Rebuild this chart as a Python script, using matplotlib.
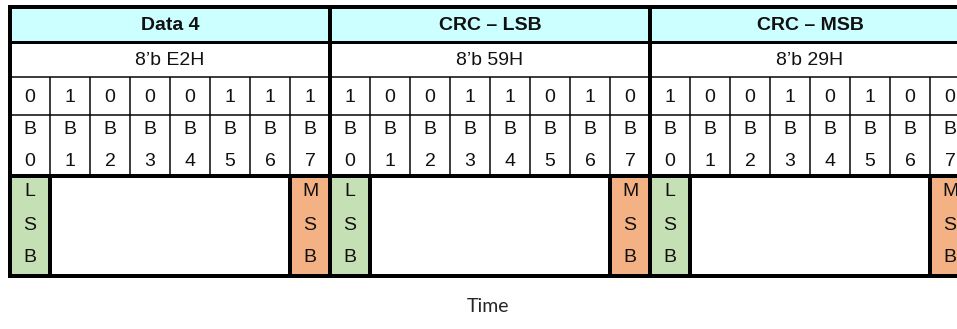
import matplotlib.pyplot as plt
from matplotlib.patches import Rectangle

# data
groups = ["Data 4", "CRC \u2013 LSB", "CRC \u2013 MSB"]
hex_labels = ["8\u2019b E2H", "8\u2019b 59H", "8\u2019b 29H"]
bits = [
    [0, 1, 0, 0, 0, 1, 1, 1],
    [1, 0, 0, 1, 1, 0, 1, 0],
    [1, 0, 0, 1, 0, 1, 0, 0],
]
bit_names = ["B0", "B1", "B2", "B3", "B4", "B5", "B6", "B7"]
axis_label = "Time"

# layout in pixels
W, H = 957, 329
x0 = 10
cw = 40          # one bit column
gw = cw * 8      # one byte group
rows = [7, 42, 77, 115, 176, 276]

cyan = "#CCFFFF"
green = "#C5E0B4"
orange = "#F4B183"
font = "Liberation Sans"
fs = 14
px = 0.72  # pixels -> points at dpi 100

fig = plt.figure(figsize=(W / 100, H / 100), dpi=100)
ax = fig.add_axes([0, 0, 1, 1])
ax.set_xlim(0, W)
ax.set_ylim(H, 0)
ax.axis("off")

def hline(y, xa, xb, w):
    ax.plot([xa, xb], [y, y], color="black", lw=w * px, solid_capstyle="butt", zorder=3)

def vline(x, ya, yb, w):
    ax.plot([x, x], [ya, yb], color="black", lw=w * px, solid_capstyle="butt", zorder=3)

def label(x, y, s, **kw):
    ax.text(x, y, s, ha="center", va="center", fontsize=fs, family=font, color="#111111", **kw)

for g, name in enumerate(groups):
    gx = x0 + g * gw
    # header
    ax.add_patch(Rectangle((gx, rows[0]), gw, rows[1] - rows[0], color=cyan, zorder=1))
    label(gx + gw / 2, (rows[0] + rows[1]) / 2 + 1, name, fontweight="bold")
    label(gx + gw / 2, (rows[1] + rows[2]) / 2 + 1, hex_labels[g])
    for i in range(8):
        cx = gx + i * cw
        label(cx + cw / 2, (rows[2] + rows[3]) / 2 + 1, str(bits[g][i]))
        label(cx + cw / 2, 130, bit_names[i][0])
        label(cx + cw / 2, 161, bit_names[i][1])
        if i > 0:
            vline(cx, rows[2], rows[4], 1.5)
    # LSB / MSB cells
    ax.add_patch(Rectangle((gx + 1, rows[4]), cw - 2, rows[5] - rows[4], color=green, zorder=1))
    ax.add_patch(Rectangle((gx + 7 * cw + 1, rows[4]), cw - 2, rows[5] - rows[4], color=orange, zorder=1))
    for k, (a, b) in enumerate(zip("LSB", "MSB")):
        yy = 192 + k * 33
        label(gx + cw / 2, yy, a)
        label(gx + 7 * cw + cw / 2, yy, b)
    vline(gx + cw, rows[4], rows[5], 4)
    vline(gx + 7 * cw, rows[4], rows[5], 4)
    vline(gx, rows[0] - 2, rows[5] + 2, 4)

hline(rows[0], x0 - 2, W, 4)
hline(rows[1], x0, W, 3)
hline(rows[2], x0, W, 1.5)
hline(rows[3], x0, W, 1.5)
hline(rows[4], x0, W, 4)
hline(rows[5], x0 - 2, W, 4)

ax.text(488, 306, axis_label, ha="center", va="center", fontsize=14, color="#262626", family="Lato")

fig.savefig("out.png", dpi=100)
